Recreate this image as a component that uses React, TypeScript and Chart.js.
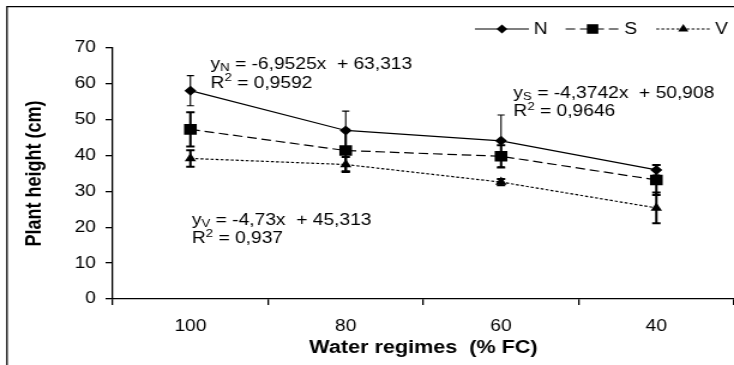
import React, { useEffect, useRef } from 'react';
import { Chart, registerables } from 'chart.js';

Chart.register(...registerables);

// ---- data ----
const categories = ['100', '80', '60', '40'];
const seriesNames = ['N', 'S', 'V'];
const nValues = [58.1, 47.0, 44.1, 36.0];
const sValues = [47.3, 41.4, 39.8, 33.2];
const vValues = [39.2, 37.5, 32.6, 25.4];
const nErrors = [4.2, 5.4, 7.2, 1.4];
const sErrors = [4.8, 5.8, 3.1, 4.2];
const vErrors = [2.3, 2.1, 0.9, 4.3];
const yTicks = [0, 10, 20, 30, 40, 50, 60, 70];
const equationTexts = [' = -6,9525x  + 63,313', ' = -4,3742x  + 50,908', ' = -4,73x  + 45,313'];
const r2Texts = [' = 0,9592', ' = 0,9646', ' = 0,937'];
// anchor of each equation label in data units: [category index, y value]
const equationAnchors = [
  [0.13, 65.3],
  [2.08, 57.4],
  [0.01, 22.0],
];

const FONT = '"Liberation Sans", Arial, Helvetica, sans-serif';
const CANVAS_W = 612; // drawn narrower, stretched by CSS like the reference
const CSS_W = 734;
const H = 365;

const pointStyles = ['rectRot', 'rect', 'triangle'];
const pointRadii = [5, 7.5, 5.5];
const dashes = [[], [8, 4], [2.5, 1.7]];
const errWidths = [1.1, 2, 2];
const capHalf = [3, 3.5, 3.5];

function drawMarker(ctx: CanvasRenderingContext2D, style: string, x: number, y: number, r: number) {
  ctx.beginPath();
  if (style === 'rectRot') {
    ctx.moveTo(x, y - r);
    ctx.lineTo(x + r, y);
    ctx.lineTo(x, y + r);
    ctx.lineTo(x - r, y);
  } else if (style === 'rect') {
    const s = Math.SQRT1_2 * r;
    ctx.rect(x - s, y - s, 2 * s, 2 * s);
  } else {
    ctx.moveTo(x, y - r);
    ctx.lineTo(x + Math.sin((2 * Math.PI) / 3) * r, y + r * 0.5);
    ctx.lineTo(x - Math.sin((2 * Math.PI) / 3) * r, y + r * 0.5);
  }
  ctx.closePath();
  ctx.fill();
}

const framePlugin = {
  id: 'frame',
  beforeDraw(chart: any) {
    const ctx = chart.ctx;
    ctx.save();
    ctx.fillStyle = '#fff';
    ctx.fillRect(0, 0, chart.width, chart.height);
    ctx.strokeStyle = '#000';
    ctx.lineWidth = 1.3;
    ctx.beginPath();
    ctx.moveTo(5.8, chart.height + 5);
    ctx.lineTo(5.8, 6.7);
    ctx.lineTo(chart.width + 5, 6.7);
    ctx.stroke();
    ctx.restore();
  },
};

const errorBarPlugin = {
  id: 'errorBars',
  afterDatasetsDraw(chart: any) {
    const ctx = chart.ctx;
    const xs = chart.scales.x;
    const ys = chart.scales.y;
    const errs = [nErrors, sErrors, vErrors];
    ctx.save();
    ctx.strokeStyle = '#000';
    chart.data.datasets.forEach((ds: any, di: number) => {
      ctx.lineWidth = errWidths[di];
      ds.data.forEach((v: number, i: number) => {
        const x = xs.getPixelForValue(i);
        const yt = ys.getPixelForValue(v + errs[di][i]);
        const yb = ys.getPixelForValue(v - errs[di][i]);
        ctx.beginPath();
        ctx.moveTo(x, yt);
        ctx.lineTo(x, yb);
        ctx.moveTo(x - capHalf[di], yt);
        ctx.lineTo(x + capHalf[di], yt);
        ctx.moveTo(x - capHalf[di], yb);
        ctx.lineTo(x + capHalf[di], yb);
        ctx.stroke();
      });
    });
    ctx.restore();
  },
};

const annotationPlugin = {
  id: 'equations',
  afterDraw(chart: any) {
    const ctx = chart.ctx;
    const xs = chart.scales.x;
    const ys = chart.scales.y;
    const big = `16px ${FONT}`;
    const small = `11px ${FONT}`;
    ctx.save();
    ctx.fillStyle = '#000';
    ctx.textBaseline = 'middle';
    ctx.textAlign = 'left';
    equationAnchors.forEach((a, k) => {
      const x0 = xs.getPixelForValue(0) + (xs.getPixelForValue(1) - xs.getPixelForValue(0)) * a[0];
      const y0 = ys.getPixelForValue(a[1]);
      // line 1
      let x = x0;
      ctx.font = big;
      ctx.fillText('y', x, y0);
      x += ctx.measureText('y').width;
      ctx.font = small;
      ctx.fillText(seriesNames[k], x, y0 + 3.5);
      x += ctx.measureText(seriesNames[k]).width;
      ctx.font = big;
      ctx.fillText(equationTexts[k], x, y0);
      // line 2
      const y1 = y0 + 18.5;
      x = x0;
      ctx.fillText('R', x, y1);
      x += ctx.measureText('R').width;
      ctx.font = small;
      ctx.fillText('2', x, y1 - 5);
      x += ctx.measureText('2').width;
      ctx.font = big;
      ctx.fillText(r2Texts[k], x, y1);
    });
    ctx.restore();
  },
};

const legendPlugin = {
  id: 'customLegend',
  afterDraw(chart: any) {
    const ctx = chart.ctx;
    const y = 29;
    let x = chart.width - 216;
    ctx.save();
    ctx.fillStyle = '#000';
    ctx.strokeStyle = '#000';
    ctx.font = `16px ${FONT}`;
    ctx.textBaseline = 'middle';
    chart.data.datasets.forEach((ds: any, i: number) => {
      ctx.lineWidth = 1.2;
      ctx.setLineDash(dashes[i]);
      ctx.beginPath();
      ctx.moveTo(x, y);
      ctx.lineTo(x + 45, y);
      ctx.stroke();
      ctx.setLineDash([]);
      drawMarker(ctx, pointStyles[i], x + 22.5, y, pointRadii[i] * 0.9);
      ctx.fillText(ds.label, x + 49, y + 1);
      x += 75.6;
    });
    ctx.restore();
  },
};

export default function App() {
  const ref = useRef<HTMLCanvasElement | null>(null);

  useEffect(() => {
    if (!ref.current) return;
    Chart.defaults.font.family = FONT;
    Chart.defaults.color = '#000';
    const values = [nValues, sValues, vValues];
    const chart = new Chart(ref.current, {
      type: 'line',
      data: {
        labels: categories,
        datasets: seriesNames.map((name, i) => ({
          label: name,
          data: values[i],
          borderColor: '#000',
          backgroundColor: '#000',
          borderWidth: 1.2,
          borderDash: dashes[i],
          pointStyle: pointStyles[i] as any,
          pointRadius: pointRadii[i],
          pointBackgroundColor: '#000',
          pointBorderColor: '#000',
          pointBorderWidth: 0,
          tension: 0,
          fill: false,
        })),
      },
      options: {
        animation: false,
        responsive: false,
        events: [],
        layout: { autoPadding: false, padding: { top: 48, right: -4, bottom: 0, left: 0 } },
        plugins: {
          legend: { display: false },
          tooltip: { enabled: false },
          title: { display: false },
        },
        scales: {
          x: {
            type: 'category',
            offset: true,
            ticks: { color: '#000', font: { size: 16, family: FONT }, padding: 12, maxRotation: 0 },
            grid: {
              offset: true,
              drawOnChartArea: false,
              drawTicks: true,
              tickLength: 6,
              color: '#000',
              lineWidth: 1.3,
            },
            border: { display: true, color: '#000', width: 1.3 },
            title: {
              display: true,
              text: 'Water regimes  (% FC)',
              color: '#000',
              font: { size: 18, weight: 'bold', family: FONT },
              padding: { top: 0, bottom: 6 },
            },
            afterFit: (s: any) => {
              s.height = 66;
              s.paddingLeft = 0;
              s.paddingRight = 0;
            },
          },
          y: {
            min: 0,
            max: 70,
            afterBuildTicks: (s: any) => {
              s.ticks = yTicks.map((v) => ({ value: v }));
            },
            ticks: { color: '#000', font: { size: 16, family: FONT }, padding: 8 },
            grid: {
              drawOnChartArea: false,
              drawTicks: true,
              tickLength: 6,
              color: '#000',
              lineWidth: 1.3,
            },
            border: { display: true, color: '#000', width: 1.3 },
            title: {
              display: true,
              text: 'Plant height (cm)',
              color: '#000',
              font: { size: 18, weight: 'bold', family: FONT },
              padding: { top: 18, bottom: 0 },
            },
            afterFit: (s: any) => {
              s.width = 94;
            },
          },
        },
      },
      plugins: [framePlugin, errorBarPlugin, annotationPlugin, legendPlugin],
    });
    return () => chart.destroy();
  }, []);

  return (
    <div style={{ position: 'fixed', left: 0, top: 0, width: CSS_W, height: H, background: '#fff' }}>
      <canvas
        ref={ref}
        width={CANVAS_W}
        height={H}
        style={{ width: `${CSS_W}px`, height: `${H}px`, display: 'block' }}
      />
    </div>
  );
}
